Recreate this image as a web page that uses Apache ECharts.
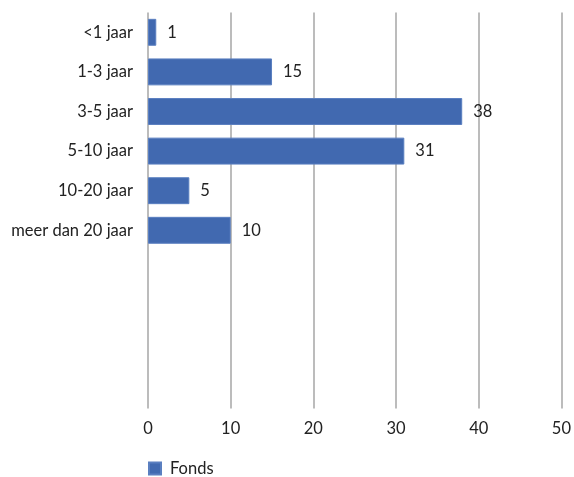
<!DOCTYPE html>
<html><head><meta charset="utf-8">
<script src="https://cdn.jsdelivr.net/npm/echarts@6/dist/echarts.min.js"></script>
<style>html,body{margin:0;padding:0;background:#fff}#c{width:574px;height:477px}</style>
</head><body><div id="c"></div>
<script>
const categories = ['<1 jaar','1-3 jaar','3-5 jaar','5-10 jaar','10-20 jaar','meer dan 20 jaar','','','',''];
const fonds = [1,15,38,31,5,10,null,null,null,null];
const seriesName = 'Fonds';
const font = 'Lato, "Noto Sans", sans-serif';
const chart = echarts.init(document.getElementById('c'));
chart.setOption({
  animation:false,
  grid:{left:148,right:8.5,top:12.5,bottom:68.5,containLabel:false},
  legend:{data:[seriesName],left:143,top:455,itemWidth:12,itemHeight:12,itemGap:6,icon:'rect',
    textStyle:{fontFamily:font,fontSize:16.5,color:'#222',padding:[0,0,0,4]}},
  xAxis:{type:'value',min:0,max:50,interval:10,
    axisLine:{show:false},axisTick:{show:false},
    splitLine:{lineStyle:{color:'#a6a6a6',width:1.5}},
    axisLabel:{margin:12,fontFamily:font,fontSize:16.5,color:'#222'}},
  yAxis:{type:'category',inverse:true,data:categories,
    axisLine:{show:false},axisTick:{show:false},
    axisLabel:{margin:15,fontFamily:font,fontSize:16.5,color:'#222'}},
  series:[{name:seriesName,type:'bar',data:fonds,barCategoryGap:'32%',
    itemStyle:{color:'#4169b0',borderColor:'#5a7fc0',borderWidth:1},
    label:{show:true,position:'right',distance:11,fontFamily:font,fontSize:16.5,color:'#222'}}]
});
</script></body></html>
